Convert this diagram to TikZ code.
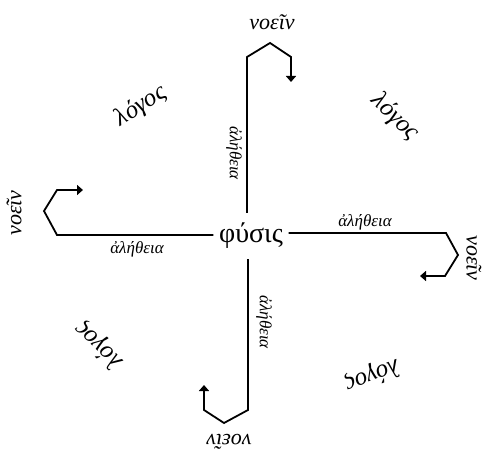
\documentclass[tikz,border=0pt]{standalone}
\usepackage{fontspec}
\setmainfont{Liberation Serif}
\usetikzlibrary{arrows.meta}
\begin{document}
\begin{tikzpicture}[x=1pt,y=-1pt,
  arm/.style={line width=1.8pt, line join=miter},
  tip/.style={-{Triangle[width=10pt,length=6pt]}},
  centre/.style={font=\fontsize{28}{30}\selectfont, inner sep=0pt,
    minimum width=75pt, minimum height=46pt},
  truth/.style={font=\itshape\fontsize{17}{19}\selectfont, inner sep=0pt},
  think/.style={font=\itshape\fontsize{22}{24}\selectfont, inner sep=0pt},
  word/.style={font=\itshape\fontsize{25}{27}\selectfont, inner sep=0pt}]

\useasboundingbox[fill=white] (0,0) rectangle (485,452);

% centre
\node[centre] (c) at (251,236) {φύσις};

% corner points of the four arms
\coordinate (t1) at (247,57);  \coordinate (t2) at (270,43);
\coordinate (t3) at (291,57);  \coordinate (t4) at (291,82);
\coordinate (r1) at (446,233); \coordinate (r2) at (458,255);
\coordinate (r3) at (445,276); \coordinate (r4) at (420,276);
\coordinate (b1) at (248,410); \coordinate (b2) at (224,423);
\coordinate (b3) at (204,410); \coordinate (b4) at (204,385);
\coordinate (l1) at (57,235);  \coordinate (l2) at (44,211);
\coordinate (l3) at (57,190);  \coordinate (l4) at (83,190);

% the arms
\draw[arm,tip] (c.north -| t1) -- (t1) -- (t2) -- (t3) -- (t4);
\draw[arm,tip] (c.east |- r1) -- (r1) -- (r2) -- (r3) -- (r4);
\draw[arm,tip] (c.south -| b1) -- (b1) -- (b2) -- (b3) -- (b4);
\draw[arm,tip] (c.west |- l1) -- (l1) -- (l2) -- (l3) -- (l4);

% labels along the arms
\node[truth] (at) at (234,153) [rotate=-90] {ἀλήθεια};
\node[truth] (ar) at (365,222) {ἀλήθεια};
\node[truth] (ab) at (264,322) [rotate=-90] {ἀλήθεια};
\node[truth] (al) at (137,249) {ἀλήθεια};

% labels at the ends of the arms
\node[think] (nt) at (272,22) {νοεῖν};
\node[think] (nr) at (474,258) [rotate=-90] {νοεῖν};
\node[think] (nb) at (229,442) [rotate=180] {νοεῖν};
\node[think] (nl) at (14,213) [rotate=90] {νοεῖν};

% the four quadrants
\node[word] (q1) at (141,106) [rotate=33] {λόγος};
\node[word] (q2) at (395,117) [rotate=-45] {λόγος};
\node[word] (q3) at (99,345) [rotate=135] {λόγος};
\node[word] (q4) at (372,375) [rotate=-159] {λόγος};
\end{tikzpicture}
\end{document}
